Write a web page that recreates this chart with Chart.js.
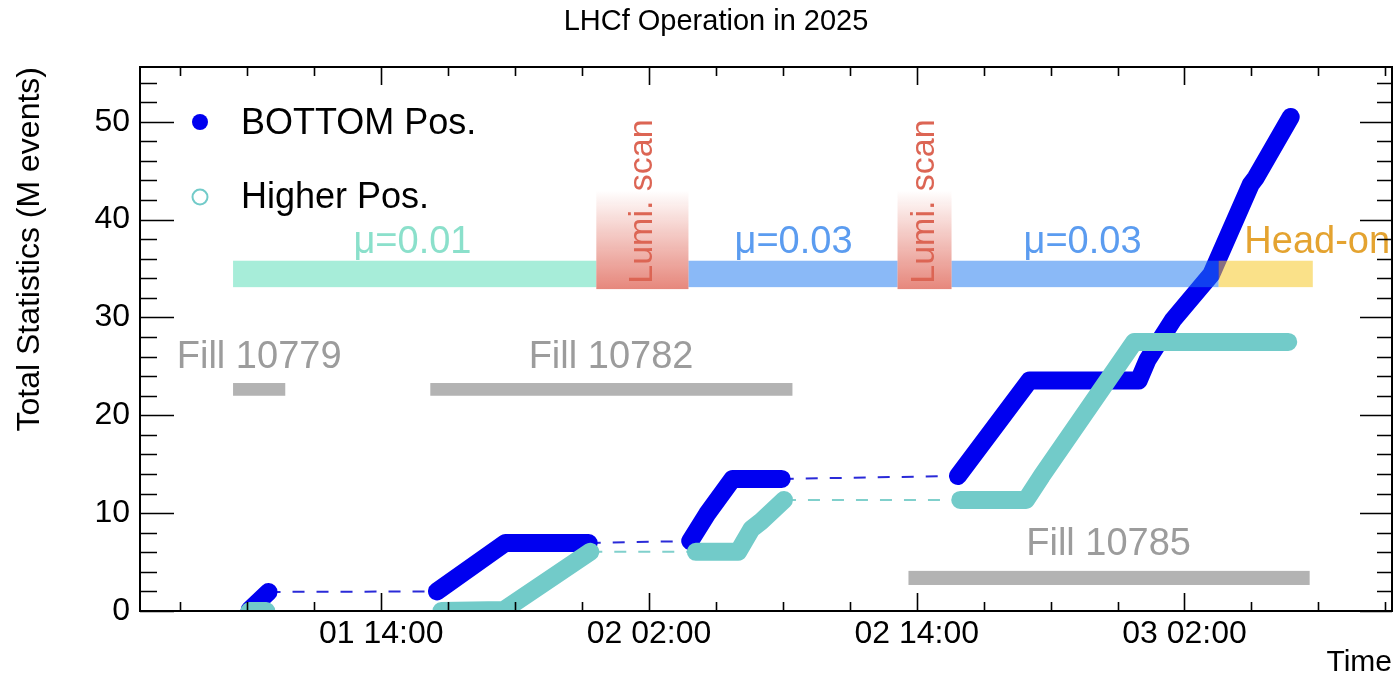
<!DOCTYPE html>
<html><head><meta charset="utf-8">
<script src="https://cdn.jsdelivr.net/npm/chart.js@4.4.1/dist/chart.umd.min.js"></script>
<style>html,body{margin:0;padding:0;background:#fff}#wrap{width:1396px;height:681px}</style>
</head><body><div id="wrap"><canvas id="c" width="1396" height="681"></canvas></div>
<script>
// Time in hours counted from day 01 00:00
const bottomTime  = [8.1, 8.95, 16.5, 19.56, 23.3, 27.85, 28.6, 29.75, 31.95, 39.85, 43.05, 47.95, 48.35, 49.5, 51.2, 52.97, 53.2, 54.76];
const bottomValue = [0.1, 1.95, 2.0, 6.95, 6.95, 7.15, 9.9, 13.5, 13.5, 13.8, 23.55, 23.55, 25.7, 29.8, 34.4, 43.6, 44.3, 50.5];
const bottomRun   = [0, 0, 1, 1, 1, 2, 2, 2, 2, 3, 3, 3, 3, 3, 3, 3, 3, 3];
const higherTime  = [8.1, 8.85, 16.7, 19.5, 23.37, 28.1, 30.0, 30.6, 31.0, 32.05, 39.95, 42.9, 43.6, 47.75, 54.65];
const higherValue = [0, 0, 0, 0.1, 6.05, 6.05, 6.05, 8.4, 9.1, 11.35, 11.35, 11.35, 13.8, 27.5, 27.5];
const higherRun   = [0, 0, 1, 1, 1, 2, 2, 2, 2, 2, 3, 3, 3, 3, 3];
const seriesNames = ['BOTTOM Pos.', 'Higher Pos.'];

const xTickHours  = [14, 26, 38, 50];
const xTickLabels = ['01 14:00', '02 02:00', '02 14:00', '03 02:00'];
const yTickValues = [0, 10, 20, 30, 40, 50];

const bandLabels = ['μ=0.01', 'μ=0.03', 'μ=0.03', 'Head-on'];
const bandStart  = [7.36, 27.77, 39.56, 51.53];
const bandEnd    = [23.64, 37.14, 51.53, 55.75];
const bandLabelAt = [15.4, 32.48, 45.43, 55.95];
const lumiLabel  = 'Lumi. scan';
const lumiStart  = [23.64, 37.14];
const lumiEnd    = [27.77, 39.56];
const fillLabels = ['Fill 10779', 'Fill 10782', 'Fill 10785'];
const fillStart  = [7.36, 16.2, 37.63];
const fillEnd    = [9.7, 32.43, 55.61];
const fillLabelAt = [8.53, 24.3, 46.6];

const X_MIN = 3.19, X_MAX = 59.3, Y_MIN = 0, Y_MAX = 55.6;
const FONT = "'Liberation Sans', Arial, Helvetica, sans-serif";
Chart.defaults.font.family = FONT;
Chart.defaults.color = '#000';

function split(times, vals, runs) {
  const solid = [], dashed = [];
  for (let i = 0; i < times.length; i++) {
    if (i > 0 && runs[i] !== runs[i - 1]) {
      solid.push({x: (times[i - 1] + times[i]) / 2, y: null});
      dashed.push({x: times[i - 1], y: vals[i - 1]}, {x: times[i], y: vals[i]}, {x: times[i] + 0.01, y: null});
    }
    solid.push({x: times[i], y: vals[i]});
  }
  return {solid, dashed};
}
const B = split(bottomTime, bottomValue, bottomRun);
const H = split(higherTime, higherValue, higherRun);
const BLUE = '#0000f0', TEAL = '#72cbc9';

const annot = {
  id: 'annot',
  afterDatasetsDraw(chart) {
    const {ctx, scales: {x, y}, chartArea: ca} = chart;
    const X = v => x.getPixelForValue(v), Y = v => y.getPixelForValue(v);
    ctx.save();
    // operation bands
    const bandFill = ['rgba(80,220,180,0.5)', 'rgba(30,120,240,0.52)', 'rgba(30,120,240,0.52)', 'rgba(245,200,40,0.55)'];
    const bandText = ['#8be0cb', '#5b9cf0', '#5b9cf0', '#e4a330'];
    for (let i = 0; i < bandLabels.length; i++) {
      ctx.fillStyle = bandFill[i];
      ctx.fillRect(X(bandStart[i]), Y(35.8), X(bandEnd[i]) - X(bandStart[i]), Y(33.1) - Y(35.8));
    }
    for (let i = 0; i < lumiStart.length; i++) {
      const g = ctx.createLinearGradient(0, Y(43), 0, Y(32.9));
      g.addColorStop(0, 'rgba(222,95,80,0)');
      g.addColorStop(1, 'rgba(222,95,80,0.75)');
      ctx.fillStyle = g;
      ctx.fillRect(X(lumiStart[i]), Y(43), X(lumiEnd[i]) - X(lumiStart[i]), Y(32.9) - Y(43));
    }
    ctx.textBaseline = 'middle';
    ctx.textAlign = 'center';
    ctx.font = '38px ' + FONT;
    for (let i = 0; i < bandLabels.length; i++) {
      ctx.fillStyle = bandText[i];
      ctx.fillText(bandLabels[i], X(bandLabelAt[i]), Y(37.7));
    }
    ctx.font = '34px ' + FONT;
    ctx.fillStyle = '#dc6554';
    for (let i = 0; i < lumiStart.length; i++) {
      ctx.save();
      ctx.translate((X(lumiStart[i]) + X(lumiEnd[i])) / 2, Y(41.85));
      ctx.rotate(-Math.PI / 2);
      ctx.fillText(lumiLabel, 0, 0);
      ctx.restore();
    }
    // fills
    const fillLo = [22.0, 22.0, 2.66], fillHi = [23.3, 23.3, 4.1], fillTxt = [25.9, 25.9, 6.75];
    ctx.font = '38px ' + FONT;
    for (let i = 0; i < fillLabels.length; i++) {
      ctx.fillStyle = '#b3b3b3';
      ctx.fillRect(X(fillStart[i]), Y(fillHi[i]), X(fillEnd[i]) - X(fillStart[i]), Y(fillLo[i]) - Y(fillHi[i]));
      ctx.fillStyle = '#9c9c9c';
      ctx.fillText(fillLabels[i], X(fillLabelAt[i]), Y(fillTxt[i]));
    }
    // frame and inner ticks
    ctx.strokeStyle = '#000';
    ctx.lineWidth = 2;
    ctx.strokeRect(ca.left, ca.top, ca.right - ca.left, ca.bottom - ca.top);
    ctx.beginPath();
    ctx.lineWidth = 1.6;
    for (let h = xTickHours[0] - 3 * Math.floor((xTickHours[0] - X_MIN) / 3); h < X_MAX; h += 3) {
      const major = xTickHours.includes(h) || ((h - xTickHours[0]) % 12 === 0);
      const len = major ? 18 : 9, px = Math.round(X(h)) + 0.5;
      ctx.moveTo(px, ca.bottom); ctx.lineTo(px, ca.bottom - len);
      ctx.moveTo(px, ca.top); ctx.lineTo(px, ca.top + len);
    }
    for (let v = 0; v < Y_MAX; v += 2) {
      const major = v % 10 === 0;
      const py = Math.round(Y(v)) + 0.5;
      ctx.moveTo(ca.left, py); ctx.lineTo(ca.left + (major ? 34 : 17), py);
      ctx.moveTo(ca.right, py); ctx.lineTo(ca.right - (major ? 32 : 15), py);
    }
    ctx.stroke();
    // legend
    ctx.font = '36px ' + FONT;
    ctx.textAlign = 'left';
    ctx.fillStyle = '#000';
    ctx.fillText(seriesNames[0], 241, 124);
    ctx.fillText(seriesNames[1], 241, 198);
    ctx.beginPath(); ctx.arc(200, 122, 8, 0, Math.PI * 2); ctx.fillStyle = BLUE; ctx.fill();
    ctx.beginPath(); ctx.arc(200, 197, 7.5, 0, Math.PI * 2); ctx.strokeStyle = TEAL; ctx.lineWidth = 2; ctx.stroke();
    ctx.restore();
  },
  afterDraw(chart) {
    const ctx = chart.ctx;
    ctx.save();
    ctx.font = '29px ' + FONT;
    ctx.fillStyle = '#000';
    ctx.textAlign = 'center';
    ctx.textBaseline = 'middle';
    ctx.fillText('LHCf Operation in 2025', 716, 22);
    ctx.restore();
  }
};

new Chart(document.getElementById('c'), {
  type: 'line',
  data: {
    datasets: [
      {label: seriesNames[1], data: H.solid, borderColor: TEAL, borderWidth: 18, borderCapStyle: 'round', borderJoinStyle: 'round', pointRadius: 0, spanGaps: false, order: 0},
      {label: seriesNames[0], data: B.solid, borderColor: BLUE, borderWidth: 18, borderCapStyle: 'round', borderJoinStyle: 'round', pointRadius: 0, spanGaps: false, order: 1},
      {label: seriesNames[1] + ' gap', data: H.dashed, borderColor: '#80d0cc', borderWidth: 2, borderDash: [12, 12], pointRadius: 0, spanGaps: false, order: 2},
      {label: seriesNames[0] + ' gap', data: B.dashed, borderColor: '#2a2ad8', borderWidth: 2, borderDash: [12, 12], pointRadius: 0, spanGaps: false, order: 3}
    ]
  },
  options: {
    responsive: false,
    animation: false,
    devicePixelRatio: 1,
    layout: {padding: {top: 67, right: 4, left: 0, bottom: 0}},
    plugins: {legend: {display: false}, tooltip: {enabled: false}, title: {display: false}},
    scales: {
      x: {
        type: 'linear', min: X_MIN, max: X_MAX,
        grid: {display: false, drawTicks: false}, border: {display: false},
        afterBuildTicks: s => { s.ticks = xTickHours.map(v => ({value: v})); },
        ticks: {font: {size: 32}, color: '#000', padding: 4, maxRotation: 0, autoSkip: false,
                callback: (v) => xTickLabels[xTickHours.indexOf(v)] ?? ''},
        title: {display: true, text: 'Time', align: 'end', font: {size: 30}, color: '#000', padding: {top: 0, bottom: 0}},
        afterFit: s => { s.height = 70; }
      },
      y: {
        type: 'linear', min: Y_MIN, max: Y_MAX,
        grid: {display: false, drawTicks: false}, border: {display: false},
        afterBuildTicks: s => { s.ticks = yTickValues.map(v => ({value: v})); },
        ticks: {font: {size: 32}, color: '#000', padding: 10},
        title: {display: true, text: 'Total Statistics (M events)', align: 'end', font: {size: 32}, color: '#000', padding: {top: 11, bottom: 0}},
        afterFit: s => { s.width = 140; }
      }
    }
  },
  plugins: [annot]
});
</script></body></html>
